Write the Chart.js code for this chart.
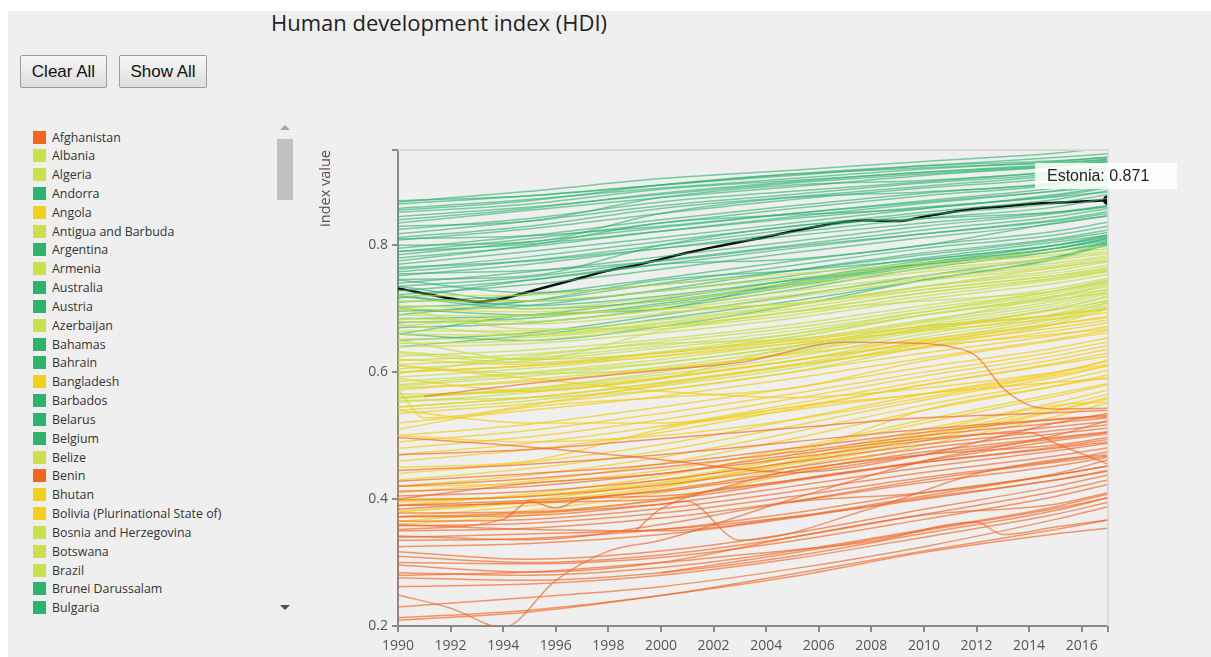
<!DOCTYPE html>
<html>
<head>
<meta charset="utf-8">
<script src="https://cdn.jsdelivr.net/npm/chart.js@4.4.1/dist/chart.umd.min.js"></script>
<style>
  html, body { margin: 0; padding: 0; background: #fff; }
  #page { position: absolute; left: 8px; top: 11px; width: 1203px; height: 646px; background: #efefef; }
  #title { position: absolute; left: 271px; top: 7px; font: 22px "Open Sans", sans-serif; color: #222; white-space: nowrap; }
  .btn { position: absolute; top: 55px; height: 33px; font: 17px "Liberation Sans", Arial, sans-serif; color: #111;
         border: 1px solid #9c9c9c; border-radius: 2px; background: linear-gradient(#f7f7f7, #dddddd); padding: 0; }
  #legend { position: absolute; left: 20px; top: 122px; width: 250px; height: 496px; overflow: hidden; padding-top: 5.6px; box-sizing: border-box; }
  .item { height: 18.84px; display: flex; align-items: center; font: 12.4px "Open Sans", sans-serif; color: #333; white-space: nowrap; }
  .sw { width: 13px; height: 13px; margin-left: 13px; margin-right: 6px; flex: none; }
  #thumb { position: absolute; left: 277px; top: 139px; width: 16px; height: 61px; background: #c1c1c1; }
  .arrow { position: absolute; width: 0; height: 0; border-left: 5px solid transparent; border-right: 5px solid transparent; }
  #up { left: 280px; top: 125px; border-bottom: 5px solid #a8a8a8; }
  #down { left: 280px; top: 605px; border-top: 5px solid #505050; }
  #wrap { position: absolute; left: 300px; top: 130px; width: 900px; height: 527px; }
  #hover { position: absolute; width: 142px; height: 26px; background: rgba(255,255,255,0.85); font: 16px "Liberation Sans", Arial, sans-serif;
           color: #222; line-height: 26px; padding-left: 12px; box-sizing: border-box; white-space: nowrap; }
</style>
</head>
<body>
<div id="page"></div>
<div id="title">Human development index (HDI)</div>
<button class="btn" style="left:20px; width:87px;">Clear All</button>
<button class="btn" style="left:119px; width:88px;">Show All</button>
<div id="legend"></div>
<div id="up" class="arrow"></div>
<div id="thumb"></div>
<div id="down" class="arrow"></div>
<div id="wrap"><canvas id="chart" width="900" height="527"></canvas></div>
<div id="hover"></div>
<script>
// colours per HDI group
const groupColors = { VH: '#2db36e', H: '#cbe04a', M: '#f2d01c', L: '#f2651f' };
const lineColors = { VH: 'rgba(45,179,110,0.62)', H: 'rgba(200,222,70,0.72)', M: 'rgba(242,206,26,0.72)', L: 'rgba(242,101,34,0.66)' };

const legendNames = ['Afghanistan', 'Albania', 'Algeria', 'Andorra', 'Angola', 'Antigua and Barbuda', 'Argentina', 'Armenia',
  'Australia', 'Austria', 'Azerbaijan', 'Bahamas', 'Bahrain', 'Bangladesh', 'Barbados', 'Belarus', 'Belgium', 'Belize',
  'Benin', 'Bhutan', 'Bolivia (Plurinational State of)', 'Bosnia and Herzegovina', 'Botswana', 'Brazil', 'Brunei Darussalam', 'Bulgaria'];
const legendGroups = ['L', 'H', 'H', 'VH', 'M', 'H', 'VH', 'H', 'VH', 'VH', 'H', 'VH', 'VH', 'M', 'VH', 'VH', 'VH', 'H',
  'L', 'M', 'M', 'H', 'H', 'H', 'VH', 'VH'];

const xTicks = [1990, 1992, 1994, 1996, 1998, 2000, 2002, 2004, 2006, 2008, 2010, 2012, 2014, 2016, 2017];
const yTicks = [0.2, 0.4, 0.6, 0.8, 0.95];

const years = [1990, 1995, 2000, 2005, 2010, 2015, 2017];

const veryHigh = [
  [.868,.885,.905,.918,.932,.945,.953], [.865,.878,.895,.910,.925,.938,.944], [.858,.872,.890,.905,.920,.932,.939],
  [.852,.865,.888,.902,.915,.928,.936], [.845,.860,.880,.898,.912,.925,.934], [.835,.855,.875,.892,.910,.924,.932],
  [.830,.838,.875,.895,.902,.915,.922], [.825,.842,.868,.885,.900,.916,.926], [.818,.838,.862,.880,.898,.912,.922],
  [.812,.830,.858,.876,.893,.910,.920], [.808,.826,.850,.872,.890,.906,.918], [.800,.805,.850,.875,.884,.896,.905],
  [.795,.815,.840,.862,.882,.898,.910], [.790,.810,.835,.858,.878,.895,.908], [.785,.805,.828,.850,.870,.890,.903],
  [.780,.798,.822,.845,.866,.886,.900], [.775,.800,.835,.848,.858,.880,.892], [.770,.790,.812,.835,.858,.878,.890],
  [.762,.782,.806,.830,.852,.872,.886], [.758,.776,.800,.825,.848,.866,.880], [.752,.770,.795,.820,.842,.860,.874],
  [.746,.752,.800,.830,.842,.852,.860], [.740,.758,.782,.806,.830,.850,.862], [.735,.750,.776,.800,.824,.845,.858],
  [.728,.745,.770,.795,.818,.840,.853], [.722,.738,.762,.788,.812,.834,.847], [.716,.745,.770,.778,.800,.835,.846],
  [.710,.722,.748,.775,.800,.822,.836], [.702,.712,.740,.768,.795,.816,.830], [.696,.705,.730,.760,.788,.810,.824],
  [.690,.712,.745,.760,.778,.800,.812], [.684,.690,.715,.745,.776,.800,.814], [.678,.685,.708,.738,.770,.795,.810],
  [.670,.678,.700,.730,.764,.790,.806], [.660,.690,.700,.742,.770,.790,.803], [.650,.662,.690,.720,.752,.782,.800],
  [.640,.658,.684,.712,.745,.778,.802], [.720,.705,.720,.745,.772,.795,.808], [.735,.712,.728,.752,.780,.805,.816],
  [.745,.725,.738,.760,.785,.808,.820], [.700,.690,.705,.735,.768,.795,.811], [.810,.815,.830,.850,.868,.885,.893],
  [.790,.802,.822,.842,.860,.876,.884], [.765,.775,.795,.815,.835,.852,.862], [.755,.760,.775,.798,.818,.838,.850],
  [.720,.700,.712,.740,.772,.800,.816], [.660,.650,.672,.705,.745,.780,.805], [.870,.878,.895,.912,.925,.933,.938],
  [.855,.870,.895,.912,.922,.930,.935], [.840,.858,.882,.900,.915,.925,.931]
];

const high = [
  [.720,.722,.738,.755,.772,.790,.798], [.712,.712,.728,.748,.768,.785,.794], [.705,.700,.718,.740,.762,.780,.790],
  [.700,.695,.712,.735,.758,.777,.787], [.690,.688,.705,.728,.752,.772,.783], [.685,.680,.698,.722,.748,.768,.780],
  [.680,.676,.692,.718,.744,.765,.776], [.672,.690,.700,.708,.735,.765,.776], [.665,.665,.682,.706,.735,.756,.768],
  [.660,.658,.676,.700,.730,.752,.765], [.652,.655,.672,.695,.725,.748,.761], [.645,.650,.668,.690,.720,.745,.758],
  [.640,.645,.662,.685,.715,.740,.754], [.632,.620,.665,.695,.712,.728,.742], [.625,.635,.652,.675,.705,.732,.748],
  [.618,.628,.648,.670,.700,.728,.745], [.612,.622,.642,.665,.695,.724,.741], [.605,.618,.638,.660,.690,.720,.738],
  [.598,.625,.645,.652,.680,.718,.730], [.592,.606,.626,.650,.682,.712,.731], [.585,.600,.620,.646,.678,.708,.727],
  [.578,.594,.614,.641,.674,.704,.724], [.572,.588,.608,.636,.670,.700,.720], [.565,.570,.590,.640,.672,.690,.709],
  [.558,.574,.596,.624,.660,.692,.714], [.552,.568,.590,.618,.655,.688,.710], [.545,.560,.584,.612,.650,.684,.706],
  [.540,.555,.578,.606,.645,.680,.703], [.610,.598,.605,.630,.665,.700,.718], [.650,.620,.630,.655,.690,.720,.735],
  [.700,.668,.672,.695,.725,.748,.759], [.580,.598,.615,.640,.668,.690,.700], [.600,.610,.630,.655,.690,.715,.725],
  [null,null,.694,.708,.730,.752,.762], [.555,.560,.572,.600,.640,.676,.700], [.630,.615,.632,.660,.695,.728,.744],
  [.675,.660,.678,.705,.735,.760,.774], [.560,.575,.600,.632,.668,.698,.712]
];

const medium = [
  [.620,.612,.630,.650,.672,.690,.699], [.600,.610,.625,.645,.665,.684,.694], [.590,.570,.590,.618,.648,.675,.688],
  [.575,.585,.605,.628,.652,.676,.686], [.560,.572,.592,.618,.645,.670,.682], [.545,.560,.582,.610,.638,.665,.678],
  [.535,.550,.572,.600,.630,.658,.672], [.520,.540,.562,.590,.622,.652,.666], [.510,.545,.560,.575,.618,.650,.662],
  [.500,.518,.545,.575,.608,.638,.654], [.490,.508,.535,.566,.600,.632,.648], [.480,.498,.525,.558,.594,.626,.642],
  [.470,.488,.515,.550,.586,.620,.636], [.460,.478,.505,.542,.580,.614,.630], [.450,.460,.510,.545,.566,.598,.619],
  [.440,.458,.486,.525,.565,.600,.617], [.430,.448,.476,.515,.556,.592,.610], [.420,.438,.466,.505,.548,.585,.603],
  [.410,.428,.456,.495,.540,.578,.596], [.400,.405,.430,.470,.540,.578,.592], [.390,.408,.436,.476,.520,.562,.580],
  [.380,.398,.426,.466,.510,.552,.572], [.372,.390,.418,.458,.500,.545,.565], [.365,.382,.410,.450,.492,.538,.558],
  [.420,.425,.445,.480,.525,.566,.582], [.540,.520,.520,.545,.580,.612,.625], [.610,.590,.570,.560,.575,.600,.612],
  [.500,.490,.500,.525,.560,.595,.610], [.380,.395,.420,.460,.505,.548,.553], [.360,.375,.400,.440,.485,.530,.551],
  [.395,.405,.425,.455,.498,.540,.560], [null,null,.514,.540,.566,.584,.590]
];

const low = [
  [.497,.482,.462,.442,.470,.520,.535], [.470,.478,.495,.512,.528,.536,.540], [.445,.455,.470,.490,.510,.526,.532],
  [.420,.432,.450,.474,.500,.520,.528], [.412,.420,.440,.465,.492,.514,.522], [.405,.412,.430,.458,.486,.508,.517],
  [.398,.404,.422,.450,.480,.503,.512], [.390,.394,.414,.444,.474,.497,.506], [.384,.395,.400,.445,.470,.485,.497],
  [.378,.380,.398,.428,.458,.482,.494], [.372,.374,.392,.420,.450,.476,.488], [.365,.368,.385,.412,.442,.468,.481],
  [.358,.362,.378,.404,.434,.460,.474], [.350,.354,.370,.396,.426,.452,.466], [.342,.336,.360,.395,.410,.440,.462],
  [.335,.338,.352,.378,.410,.438,.452], [.325,.330,.344,.370,.402,.430,.445], [.317,.305,.318,.346,.384,.420,.438],
  [.310,.300,.312,.340,.376,.412,.430], [.300,.298,.308,.334,.368,.404,.423], [.296,.285,.300,.340,.375,.392,.410],
  [.284,.280,.292,.318,.352,.388,.408], [.276,.272,.284,.310,.346,.382,.402], [.262,.266,.280,.306,.340,.376,.395],
  [.230,.245,.262,.290,.325,.368,.388], [.213,.225,.248,.282,.318,.352,.367], [.209,.222,.248,.278,.316,.345,.354],
  [.340,.345,.352,.372,.400,.430,.444], [null,null,.284,.315,.350,.385,.402], [.390,.398,.412,.440,.470,.495,.505],
  [.428,.440,.455,.480,.505,.525,.530], [.360,.352,.350,.372,.405,.438,.452]
];

// low-group lines with irregular shapes
const lowSpikeYears = [1991, 1995, 2000, 2003, 2007, 2010, 2011, 2012, 2013, 2014, 2015, 2017];
const lowSpikeValues = [.562, .582, .603, .615, .647, .645, .640, .625, .575, .548, .542, .543];
const lowDip2013Years = [1990, 1995, 2000, 2003, 2008, 2012, 2013, 2015, 2017];
const lowDip2013Values = [.280, .285, .300, .312, .333, .364, .344, .356, .367];
const lowDip1994Years = [1990, 1992, 1994, 1996, 1998, 2000, 2005, 2010, 2015, 2017];
const lowDip1994Values = [.249, .228, .198, .272, .318, .335, .400, .460, .500, .524];
const lowBumpYears = [1990, 1994, 1995, 1996, 1997, 2000, 2005, 2010, 2015, 2017];
const lowBumpValues = [.352, .368, .396, .386, .400, .405, .430, .460, .492, .503];
const lowDrop2002Years = [1990, 1995, 2000, 2001, 2003, 2008, 2012, 2015, 2017];
const lowDrop2002Values = [.372, .378, .392, .396, .335, .385, .440, .462, .470];
const lowFallYears = [1990, 1995, 2000, 2005, 2010, 2014, 2015, 2017];
const lowFallValues = [.400, .425, .440, .470, .495, .505, .488, .455];
const lowLate1999Years = [1999, 2000, 2005, 2010, 2015, 2017];
const lowLate1999Values = [.348, .385, .430, .458, .480, .490];
const lowLate2005Years = [2005, 2010, 2015, 2017];
const lowLate2005Values = [.396, .430, .458, .468];
const mediumDipYears = [1990, 1991, 1993, 1995, 2000, 2005, 2010, 2015, 2017];
const mediumDipValues = [.573, .528, .535, .548, .580, .610, .640, .660, .668];

const estoniaName = 'Estonia';
const estoniaYears = [1990, 1991, 1992, 1993, 1994, 1995, 1996, 1997, 1998, 1999, 2000, 2001, 2002, 2003,
  2004, 2005, 2006, 2007, 2008, 2009, 2010, 2011, 2012, 2013, 2014, 2015, 2016, 2017];
const estoniaValues = [.732, .724, .716, .711, .716, .727, .738, .749, .760, .768, .778, .788, .797, .805,
  .813, .822, .830, .837, .839, .838, .845, .852, .858, .861, .865, .867, .869, .871];

// legend list
const legendEl = document.getElementById('legend');
legendNames.forEach((name, i) => {
  const row = document.createElement('div');
  row.className = 'item';
  row.innerHTML = `<span class="sw" style="background:${groupColors[legendGroups[i]]}"></span>${name}`;
  legendEl.appendChild(row);
});

function toPoints(xs, ys) {
  const pts = [];
  xs.forEach((x, i) => { if (ys[i] !== null) pts.push({ x: x, y: ys[i] }); });
  return pts;
}

function lineSet(xs, ys, group) {
  return { data: toPoints(xs, ys), borderColor: lineColors[group], borderWidth: 1.5, pointRadius: 0, fill: false };
}

const datasets = [];
low.forEach(v => datasets.push(lineSet(years, v, 'L')));
datasets.push(lineSet(lowSpikeYears, lowSpikeValues, 'L'));
datasets.push(lineSet(lowDip2013Years, lowDip2013Values, 'L'));
datasets.push(lineSet(lowDip1994Years, lowDip1994Values, 'L'));
datasets.push(lineSet(lowBumpYears, lowBumpValues, 'L'));
datasets.push(lineSet(lowDrop2002Years, lowDrop2002Values, 'L'));
datasets.push(lineSet(lowFallYears, lowFallValues, 'L'));
datasets.push(lineSet(lowLate1999Years, lowLate1999Values, 'L'));
datasets.push(lineSet(lowLate2005Years, lowLate2005Values, 'L'));
medium.forEach(v => datasets.push(lineSet(years, v, 'M')));
datasets.push(lineSet(mediumDipYears, mediumDipValues, 'M'));
high.forEach(v => datasets.push(lineSet(years, v, 'H')));
veryHigh.forEach(v => datasets.push(lineSet(years, v, 'VH')));

const last = estoniaValues.length - 1;
datasets.push({
  label: estoniaName,
  data: toPoints(estoniaYears, estoniaValues),
  borderColor: '#111',
  borderWidth: 2.5,
  pointRadius: ctx => ctx.dataIndex === last ? 5 : 0,
  pointBackgroundColor: '#111',
  pointBorderWidth: 0,
  fill: false
});

const framePlugin = {
  id: 'frame',
  afterDraw(chart) {
    const { ctx, chartArea: a } = chart;
    ctx.save();
    ctx.strokeStyle = '#d9d9d9';
    ctx.lineWidth = 2;
    ctx.beginPath();
    ctx.moveTo(a.left, a.top);
    ctx.lineTo(a.right, a.top);
    ctx.lineTo(a.right, a.bottom);
    ctx.stroke();
    ctx.restore();

    const px = chart.scales.x.getPixelForValue(estoniaYears[last]);
    const py = chart.scales.y.getPixelForValue(estoniaValues[last]);
    const box = document.getElementById('hover');
    box.textContent = `${estoniaName}: ${estoniaValues[last].toFixed(3)}`;
    box.style.left = (300 + px - 73) + 'px';
    box.style.top = (130 + py - 37) + 'px';
  }
};

const tickFont = { family: 'Open Sans', size: 14 };

new Chart(document.getElementById('chart'), {
  type: 'line',
  data: { datasets },
  options: {
    responsive: false,
    animation: false,
    devicePixelRatio: 1,
    cubicInterpolationMode: 'monotone',
    layout: { padding: { top: 20, right: 92, left: 0, bottom: 0 } },
    plugins: { legend: { display: false }, tooltip: { enabled: false } },
    events: [],
    scales: {
      x: {
        type: 'linear',
        min: 1990,
        max: 2017,
        afterBuildTicks: axis => { axis.ticks = xTicks.map(v => ({ value: v })); },
        afterFit: axis => { axis.height = 31; },
        ticks: { autoSkip: false, maxRotation: 0, color: '#555', font: tickFont, padding: 6,
                 callback: v => v === 2017 ? '' : String(v) },
        grid: { drawOnChartArea: false, drawTicks: true, tickLength: 6, color: '#8a8a8a', lineWidth: 2 },
        border: { color: '#8a8a8a', width: 2 }
      },
      y: {
        min: 0.2,
        max: 0.95,
        afterBuildTicks: axis => { axis.ticks = yTicks.map(v => ({ value: v })); },
        afterFit: axis => { axis.width = 98; },
        ticks: { color: '#555', font: tickFont, padding: 4,
                 callback: v => v === 0.95 ? '' : v.toFixed(1) },
        grid: { drawOnChartArea: false, drawTicks: true, tickLength: 6, color: '#8a8a8a', lineWidth: 2 },
        border: { color: '#8a8a8a', width: 2 },
        title: { display: true, text: 'index value', align: 'end', color: '#5a4a55',
                 font: { family: 'Open Sans', size: 14.5 }, padding: { top: 17, bottom: 0 } }
      }
    }
  },
  plugins: [framePlugin]
});
</script>
</body>
</html>
